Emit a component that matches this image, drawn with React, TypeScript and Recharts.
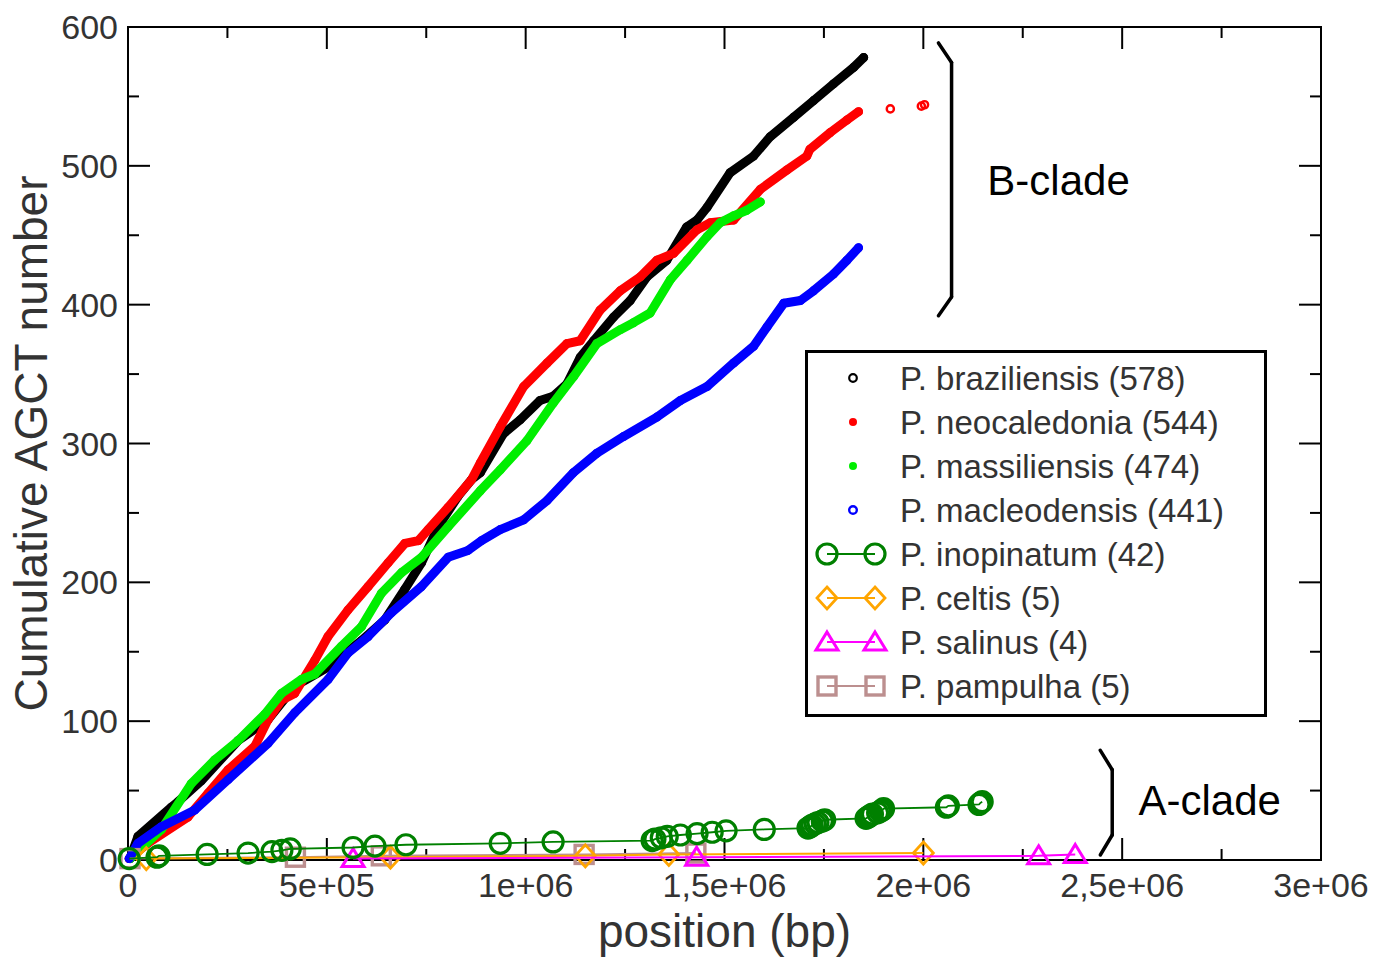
import React from 'react';
import {
  ScatterChart,
  Scatter,
  XAxis,
  YAxis,
  ReferenceLine,
  ReferenceArea,
  ReferenceDot,
  Legend,
  Label,
} from 'recharts';

// ---------- axis ticks ----------
const xMajorTicks = [0, 500000, 1000000, 1500000, 2000000, 2500000, 3000000];
const xTickLabels = ['0', '5e+05', '1e+06', '1,5e+06', '2e+06', '2,5e+06', '3e+06'];
const xMinorTicks = [250000, 750000, 1250000, 1750000, 2250000, 2750000];
const yMajorTicks = [0, 100, 200, 300, 400, 500, 600];
const yMinorTicks = [50, 150, 250, 350, 450, 550];

// ---------- B-clade (cumulative counts) ----------
const braziliensisPos = [5000, 25000, 109000, 126000, 184000, 277000, 352000, 419000, 503000, 587000, 646000, 696000, 738000, 780000, 830000, 864000, 886000, 944000, 986000, 1036000, 1069000, 1104000, 1137000, 1171000, 1221000, 1263000, 1305000, 1355000, 1405000, 1431000, 1456000, 1514000, 1573000, 1615000, 1674000, 1724000, 1774000, 1825000, 1850000];
const braziliensisCount = [1, 17, 38, 42, 57, 86, 101, 125, 139, 158, 173, 195, 214, 240, 262, 274, 279, 307, 317, 331, 334, 343, 362, 374, 391, 403, 420, 432, 456, 461, 470, 495, 507, 521, 535, 547, 559, 571, 578];

const neocaledoniaPos = [3000, 50000, 151000, 201000, 252000, 319000, 352000, 386000, 419000, 470000, 503000, 553000, 604000, 654000, 696000, 730000, 755000, 805000, 864000, 886000, 936000, 995000, 1054000, 1104000, 1137000, 1187000, 1238000, 1288000, 1330000, 1372000, 1431000, 1464000, 1523000, 1590000, 1657000, 1707000, 1715000, 1766000, 1808000, 1837000];
const neocaledoniaCount = [1, 12, 31, 48, 65, 82, 101, 115, 120, 144, 161, 180, 197, 214, 228, 230, 238, 254, 274, 286, 312, 341, 358, 372, 374, 396, 410, 420, 432, 437, 454, 459, 461, 483, 497, 507, 512, 524, 533, 539];
const neocaledoniaTailPos = [1917000, 1995000, 2003000];
const neocaledoniaTailCount = [541, 543, 544];

const massiliensisPos = [5000, 84000, 159000, 218000, 277000, 344000, 386000, 436000, 470000, 537000, 587000, 637000, 688000, 738000, 805000, 886000, 936000, 1003000, 1069000, 1120000, 1179000, 1238000, 1271000, 1313000, 1364000, 1406000, 1456000, 1489000, 1523000, 1556000, 1590000];
const massiliensisCount = [1, 22, 55, 72, 86, 105, 120, 130, 134, 154, 168, 192, 207, 218, 240, 266, 281, 302, 329, 348, 372, 382, 387, 394, 418, 432, 449, 459, 464, 468, 474];

const macleodensisPos = [3000, 25000, 84000, 168000, 252000, 352000, 419000, 503000, 553000, 604000, 662000, 738000, 805000, 855000, 889000, 936000, 995000, 1054000, 1120000, 1179000, 1246000, 1330000, 1389000, 1456000, 1523000, 1573000, 1607000, 1649000, 1691000, 1724000, 1774000, 1808000, 1837000];
const macleodensisCount = [1, 12, 24, 36, 58, 84, 106, 130, 149, 161, 178, 197, 218, 223, 230, 238, 245, 259, 279, 293, 305, 319, 331, 341, 358, 370, 384, 401, 403, 410, 422, 432, 441];

// ---------- A-clade ----------
const inopinatumPos = [3000, 73000, 78000, 199000, 302000, 362000, 387000, 408000, 566000, 621000, 699000, 936000, 1069000, 1318000, 1325000, 1341000, 1356000, 1389000, 1431000, 1469000, 1504000, 1600000, 1710000, 1716000, 1720000, 1728000, 1735000, 1746000, 1752000, 1856000, 1862000, 1866000, 1872000, 1885000, 1892000, 1897000, 1900000, 2058000, 2063000, 2140000, 2143000, 2148000];
const inopinatumCount = [1, 2, 3, 4, 5, 6, 7, 8, 9, 10, 11, 12, 13, 14, 15, 16, 17, 18, 19, 20, 21, 22, 23, 24, 25, 26, 27, 28, 29, 30, 31, 32, 33, 34, 35, 36, 37, 38, 39, 40, 41, 42];

const celtisPos = [46000, 660000, 1150000, 1360000, 2000000];
const celtisCount = [1, 2, 3, 4, 5];

const salinusPos = [566000, 1430000, 2290000, 2382000];
const salinusCount = [1, 2, 3, 4];

const pampulhaPos = [5000, 421000, 637000, 1147000, 1428000];
const pampulhaCount = [1, 2, 3, 4, 5];

// ---------- legend ----------
const seriesNames = ['P. braziliensis', 'P. neocaledonia', 'P. massiliensis', 'P. macleodensis', 'P. inopinatum', 'P. celtis', 'P. salinus', 'P. pampulha'];
const seriesTotals = [578, 544, 474, 441, 42, 5, 4, 5];
const seriesColors = ['#000000', '#ff0000', '#00ee00', '#0000ff', '#008000', '#ffa500', '#ff00ff', '#bc8f8f'];

// ---------- annotations ----------
const bracketB = [
  { x: 2038000, y: 588.5 },
  { x: 2071000, y: 574.5 },
  { x: 2071000, y: 405.5 },
  { x: 2038000, y: 392 },
];
const bracketA = [
  { x: 2445000, y: 79 },
  { x: 2475000, y: 65 },
  { x: 2475000, y: 18 },
  { x: 2445000, y: 3.6 },
];
const cladeLabels = [
  { text: 'B-clade', x: 2161000, y: 490 },
  { text: 'A-clade', x: 2541000, y: 43 },
];

const X_PER_PX = 3000000 / 1193;
const Y_PER_PX = 600 / 833;
const MAJOR_LEN = 22;
const MINOR_LEN = 11;

const FONT = '"Liberation Sans", Arial, Helvetica, sans-serif';

const zip = (pos: number[], cnt: number[]) => pos.map((x, i) => ({ x, y: cnt[i] }));

const braziliensis = zip(braziliensisPos, braziliensisCount);
const neocaledonia = zip(neocaledoniaPos, neocaledoniaCount);
const neocaledoniaTail = zip(neocaledoniaTailPos, neocaledoniaTailCount);
const massiliensis = zip(massiliensisPos, massiliensisCount);
const macleodensis = zip(macleodensisPos, macleodensisCount);
const inopinatum = zip(inopinatumPos, inopinatumCount);
const celtis = zip(celtisPos, celtisCount);
const salinus = zip(salinusPos, salinusCount);
const pampulha = zip(pampulhaPos, pampulhaCount);

// ---------- shapes ----------
const smallDot = (color: string) => (p: any) => (
  <circle cx={p.cx} cy={p.cy} r={3.5} fill="none" stroke={color} strokeWidth={2} />
);
const tailDot = (color: string) => (p: any) => (
  <circle cx={p.cx} cy={p.cy} r={3.6} fill="none" stroke={color} strokeWidth={2.4} />
);
const circleShape = (color: string) => (p: any) => (
  <circle cx={p.cx} cy={p.cy} r={10} fill="none" stroke={color} strokeWidth={3.2} />
);
const diamondShape = (color: string) => (p: any) => (
  <polygon
    points={`${p.cx},${p.cy - 11} ${p.cx + 10},${p.cy} ${p.cx},${p.cy + 11} ${p.cx - 10},${p.cy}`}
    fill="none"
    stroke={color}
    strokeWidth={2.8}
  />
);
const triangleShape = (color: string) => (p: any) => (
  <polygon
    points={`${p.cx},${p.cy - 10} ${p.cx + 11},${p.cy + 8} ${p.cx - 11},${p.cy + 8}`}
    fill="none"
    stroke={color}
    strokeWidth={3}
  />
);
const squareShape = (color: string) => (p: any) => (
  <rect x={p.cx - 9} y={p.cy - 9} width={18} height={18} fill="none" stroke={color} strokeWidth={3.4} />
);

const LegendBox = () => {
  const rowY = [28, 72, 116, 160, 204, 248, 292, 336];
  const sym = (i: number, y: number) => {
    const c = seriesColors[i];
    if (i === 0) return <circle cx={48} cy={y} r={3.8} fill="#fff" stroke={c} strokeWidth={2.2} />;
    if (i === 1 || i === 2) return <circle cx={48} cy={y} r={4} fill={c} />;
    if (i === 3) return <circle cx={48} cy={y} r={3.8} fill="#fff" stroke={c} strokeWidth={2.4} />;
    const line = <line x1={22} y1={y} x2={70} y2={y} stroke={c} strokeWidth={2} />;
    const shapes = [circleShape, diamondShape, triangleShape, squareShape];
    const f = shapes[i - 4](c);
    return (
      <g>
        {line}
        {f({ cx: 22, cy: y })}
        {f({ cx: 70, cy: y })}
      </g>
    );
  };
  return (
    <svg width={463} height={368} style={{ display: 'block' }}>
      <rect x={1.5} y={1.5} width={459} height={364} fill="#fff" stroke="#000" strokeWidth={3} />
      {seriesNames.map((n, i) => (
        <g key={n}>
          {sym(i, rowY[i])}
          <text x={95} y={rowY[i]} dy="0.36em" fontSize={33} fill="#333" fontFamily={FONT}>
            {`${n} (${seriesTotals[i]})`}
          </text>
        </g>
      ))}
    </svg>
  );
};

export default function App() {
  const tickSegs: { a: { x: number; y: number }; b: { x: number; y: number } }[] = [];
  const addX = (t: number, len: number) => {
    tickSegs.push({ a: { x: t, y: 0 }, b: { x: t, y: len * Y_PER_PX } });
    tickSegs.push({ a: { x: t, y: 600 }, b: { x: t, y: 600 - len * Y_PER_PX } });
  };
  const addY = (t: number, len: number) => {
    tickSegs.push({ a: { x: 0, y: t }, b: { x: len * X_PER_PX, y: t } });
    tickSegs.push({ a: { x: 3000000, y: t }, b: { x: 3000000 - len * X_PER_PX, y: t } });
  };
  xMajorTicks.slice(1, -1).forEach((t) => addX(t, MAJOR_LEN));
  xMinorTicks.forEach((t) => addX(t, MINOR_LEN));
  yMajorTicks.slice(1, -1).forEach((t) => addY(t, MAJOR_LEN));
  yMinorTicks.forEach((t) => addY(t, MINOR_LEN));

  const bracketSegs = (pts: { x: number; y: number }[]) =>
    pts.slice(0, -1).map((p, i) => [p, pts[i + 1]]);

  const bLine = (color: string) => ({
    stroke: color,
    strokeWidth: 9,
    strokeLinejoin: 'round',
    strokeLinecap: 'round',
  });

  return (
    <div style={{ position: 'absolute', left: 0, top: 0, width: 1376, height: 961, background: '#fff' }}>
      <ScatterChart
        width={1376}
        height={961}
        margin={{ top: 27, right: 55, bottom: 0, left: 0 }}
        style={{ fontFamily: FONT }}
      >
        <XAxis
          type="number"
          dataKey="x"
          domain={[0, 3000000]}
          ticks={xMajorTicks}
          tickFormatter={(v: number) => xTickLabels[xMajorTicks.indexOf(v)]}
          height={101}
          tickLine={false}
          axisLine={false}
          tickSize={0}
          tickMargin={13}
          tick={{ fontSize: 34, fill: '#333', fontFamily: FONT }}
          interval={0}
        >
          <Label
            value="position (bp)"
            position="insideBottom"
            offset={14}
            style={{ fontSize: 46, fill: '#333', fontFamily: FONT }}
          />
        </XAxis>
        <YAxis
          type="number"
          dataKey="y"
          domain={[0, 600]}
          ticks={yMajorTicks}
          width={128}
          tickLine={false}
          axisLine={false}
          tickSize={0}
          tickMargin={10}
          tick={{ fontSize: 34, fill: '#333', fontFamily: FONT }}
          interval={0}
        >
          <Label
            value="Cumulative AGCT number"
            angle={-90}
            position="insideLeft"
            offset={31}
            style={{ fontSize: 46, fill: '#333', fontFamily: FONT, textAnchor: 'middle' }}
          />
        </YAxis>

        <ReferenceArea x1={0} x2={3000000} y1={0} y2={600} fill="none" stroke="#000" strokeWidth={2} ifOverflow="visible" />
        {tickSegs.map((s, i) => (
          <ReferenceLine key={`t${i}`} segment={[s.a, s.b]} stroke="#000" strokeWidth={2} ifOverflow="visible" />
        ))}

        <Scatter name="braziliensis" data={braziliensis} fill="#000" line={bLine('#000')} shape={smallDot('#000')} isAnimationActive={false} />
        <Scatter name="neocaledonia" data={neocaledonia} fill="#ff0000" line={bLine('#ff0000')} shape={smallDot('#ff0000')} isAnimationActive={false} />
        <Scatter name="neocaledoniaTail" data={neocaledoniaTail} fill="#ff0000" shape={tailDot('#ff0000')} legendType="none" isAnimationActive={false} />
        <Scatter name="massiliensis" data={massiliensis} fill="#00ee00" line={bLine('#00ee00')} shape={smallDot('#00ee00')} isAnimationActive={false} />
        <Scatter name="macleodensis" data={macleodensis} fill="#0000ff" line={bLine('#0000ff')} shape={smallDot('#0000ff')} isAnimationActive={false} />

        <Scatter name="pampulha" data={pampulha} fill="#bc8f8f" line={{ stroke: '#bc8f8f', strokeWidth: 2 }} shape={squareShape('#bc8f8f')} isAnimationActive={false} />
        <Scatter name="celtis" data={celtis} fill="#ffa500" line={{ stroke: '#ffa500', strokeWidth: 2 }} shape={diamondShape('#ffa500')} isAnimationActive={false} />
        <Scatter name="salinus" data={salinus} fill="#ff00ff" line={{ stroke: '#ff00ff', strokeWidth: 2 }} shape={triangleShape('#ff00ff')} isAnimationActive={false} />
        <Scatter name="inopinatum" data={inopinatum} fill="#008000" line={{ stroke: '#008000', strokeWidth: 1.8 }} shape={circleShape('#008000')} isAnimationActive={false} />

        {bracketSegs(bracketB).map((s, i) => (
          <ReferenceLine key={`bb${i}`} segment={s} stroke="#000" strokeWidth={3.5} strokeLinecap="round" ifOverflow="visible" />
        ))}
        {bracketSegs(bracketA).map((s, i) => (
          <ReferenceLine key={`ba${i}`} segment={s} stroke="#000" strokeWidth={3.5} strokeLinecap="round" ifOverflow="visible" />
        ))}
        {cladeLabels.map((l) => (
          <ReferenceDot
            key={l.text}
            x={l.x}
            y={l.y}
            r={0}
            ifOverflow="visible"
            shape={(p: any) => (
              <text x={p.cx} y={p.cy} dy="0.36em" fontSize={42} fill="#000" fontFamily={FONT}>
                {l.text}
              </text>
            )}
          />
        ))}

        <Legend
          layout="vertical"
          align="center"
          verticalAlign="middle"
          content={() => <LegendBox />}
          wrapperStyle={{ left: 805, top: 350, width: 463, height: 368 }}
        />
      </ScatterChart>
    </div>
  );
}
